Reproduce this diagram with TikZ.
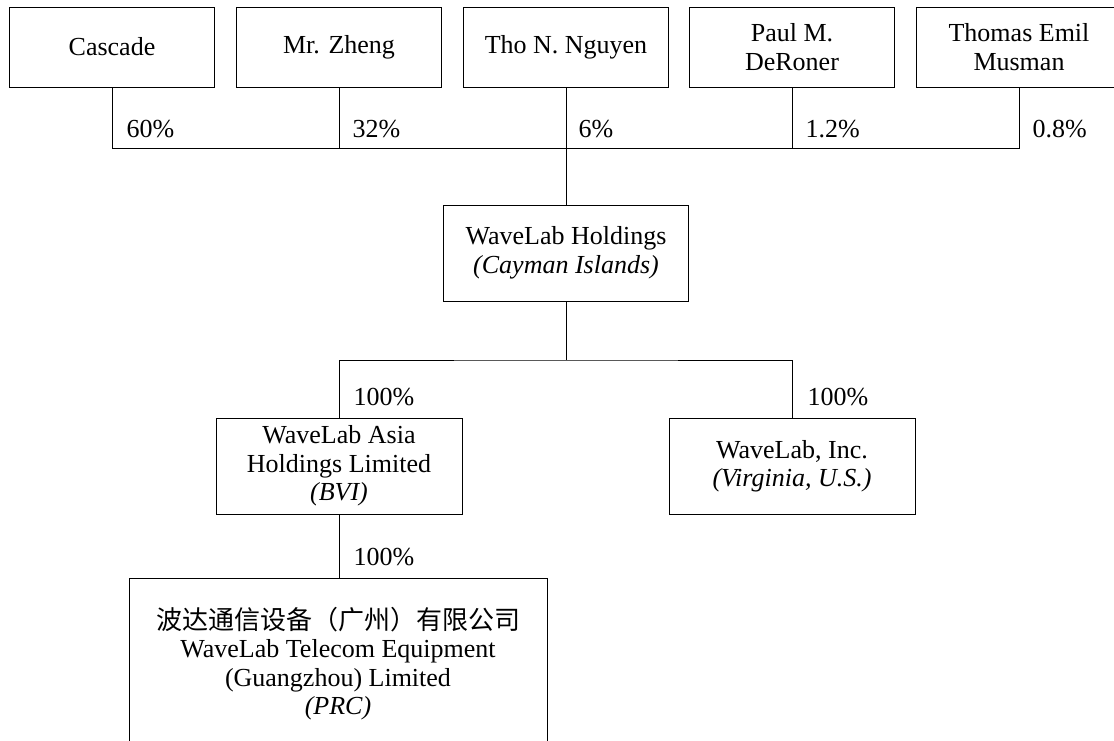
\documentclass[tikz,border=0pt]{standalone}
\usepackage{fontspec}
\setmainfont{Liberation Serif}
\newfontfamily\cjk{Noto Sans CJK SC}
\begin{document}
\begin{tikzpicture}[x=1pt,y=-1pt,line width=1pt,
  box/.style={draw, line width=1pt, inner sep=0pt, align=center, font=\fontsize{26}{28.5}\selectfont},
  topbox/.style={box, minimum width=205pt, minimum height=80pt},
  midbox/.style={box, minimum width=246pt, minimum height=96pt},
  pct/.style={anchor=base west, inner sep=0pt, font=\fontsize{26}{28.5}\selectfont}]
\useasboundingbox (0,0) rectangle (1114,740);
\clip (0,0) rectangle (1114,740);
% top row
\node[topbox] (cascade) at (112,47) {Cascade};
\node[topbox] (zheng) at (339,47) {Mr. Zheng};
\node[topbox] (tho) at (566,47) {Tho N. Nguyen};
\node[topbox] (paul) at (792,47) {Paul M.\\DeRoner};
\node[topbox] (thomas) at (1019,47) {Thomas Emil\\Musman};
\coordinate (busL) at (112,148);
\coordinate (busR) at (1019,148);
\draw (cascade.south) -- (busL) -- (busR) -- (thomas.south);
\draw (zheng.south) -- (zheng.south |- busL);
\draw (paul.south) -- (paul.south |- busL);
\node[pct] (p60) at (126,137) {60\%};
\node[pct] (p32) at (352,137) {32\%};
\node[pct] (p6) at (578,137) {6\%};
\node[pct] (p12) at (805,137) {1.2\%};
\node[pct] (p08) at (1032,137) {0.8\%};
% holdings
\node[box, minimum width=245pt, minimum height=96pt] (hold) at (566,253) {WaveLab Holdings\\\textit{(Cayman Islands)}};
\draw (tho.south) -- (hold.north);
% second level
\node[midbox] (asia) at (339,466) {WaveLab Asia\\Holdings Limited\\\textit{(BVI)}};
\node[midbox] (inc) at (792,466) {WaveLab, Inc.\\\textit{(Virginia, U.S.)}};
\coordinate (bus2) at (566,360);
\draw (hold.south) -- (bus2);
\draw (asia.north) |- (bus2) -| (inc.north);
\node[pct] (pa) at (353,405) {100\%};
\node[pct] (pi) at (807,405) {100\%};
% third level
\node[box, minimum width=418pt, minimum height=170pt, anchor=north] (prc) at (338,578)
  {{\cjk 波达通信设备（广州）有限公司}\\WaveLab Telecom Equipment\\(Guangzhou) Limited\\\textit{(PRC)}};
\draw (asia.south) -- (asia.south |- prc.north);
\node[pct] (pp) at (353,565) {100\%};
\end{tikzpicture}
\end{document}
